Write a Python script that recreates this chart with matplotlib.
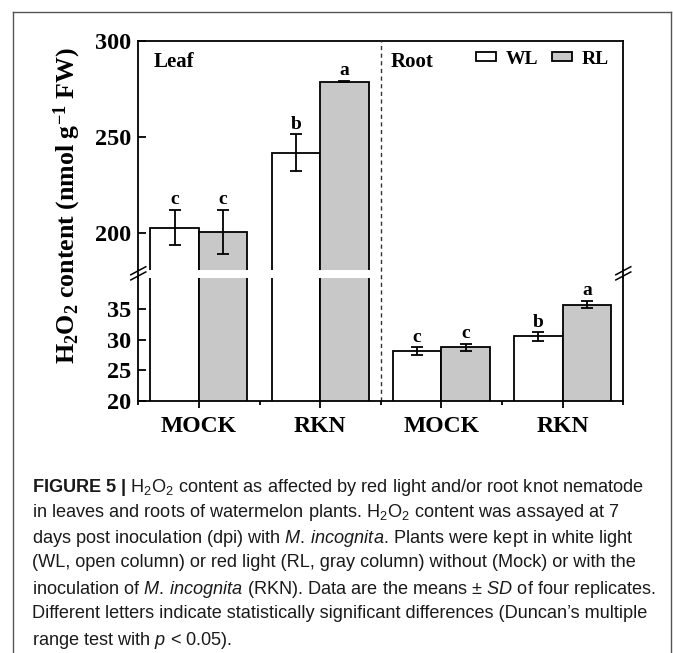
import numpy as np
import matplotlib
matplotlib.use('Agg')
from matplotlib import pyplot as plt
from matplotlib.lines import Line2D

# data
groups = ['MOCK', 'RKN', 'MOCK', 'RKN']
tissues = ['Leaf', 'Root']
wl_mean = [202.8, 241.7, 28.1, 30.5]
wl_sd = [9.3, 9.6, 0.65, 0.7]
rl_mean = [200.5, 278.8, 28.7, 35.7]
rl_sd = [11.7, 0.4, 0.6, 0.6]
wl_letters = ['c', 'b', 'c', 'b']
rl_letters = ['c', 'a', 'c', 'a']
upper_ticks = [200, 250, 300]
lower_ticks = [20, 25, 30, 35]
upper_lim = (180.7, 300)
lower_lim = (20, 40.1)

caption_lines = [
    r"$\mathbf{FIGURE\ 5\ |}$ H$\mathregular{_2}$O$\mathregular{_2}$ content as affected by red light and/or root knot nematode",
    r"in leaves and roots of watermelon plants. H$\mathregular{_2}$O$\mathregular{_2}$ content was assayed at 7",
    r"days post inoculation (dpi) with $\mathit{M.\,incognita}$. Plants were kept in white light",
    "(WL, open column) or red light (RL, gray column) without (Mock) or with the",
    r"inoculation of $\mathit{M.\,incognita}$ (RKN). Data are the means ± $\mathit{SD}$ of four replicates.",
    "Different letters indicate statistically significant differences (Duncan\u2019s multiple",
    r"range test with $\mathit{p}$ < 0.05).",
]

plt.rcParams['font.family'] = ['Liberation Sans', 'DejaVu Sans']
plt.rcParams['mathtext.fontset'] = 'custom'
plt.rcParams['mathtext.rm'] = 'Liberation Sans'
plt.rcParams['mathtext.it'] = 'Liberation Sans:italic'
plt.rcParams['mathtext.bf'] = 'Liberation Sans:bold'

SERIF = 'Liberation Serif'
LW = 1.3
GRAY = '#c8c8c8'

W, H = 673, 653
fig = plt.figure(figsize=(W / 100, H / 100), dpi=100)


def fx(px):
    return px / W


def fy(px):
    return 1 - px / H


# pixel layout of the two halves of the broken axis
left, right = 138.3, 623.3
top_y0, top_y1 = 41, 270
low_y0, low_y1 = 277.7, 400.7
ax_top = fig.add_axes([fx(left), fy(top_y1), fx(right) - fx(left), fy(top_y0) - fy(top_y1)])
ax_low = fig.add_axes([fx(left), fy(low_y1), fx(right) - fx(left), fy(low_y0) - fy(low_y1)])

x = np.arange(1, len(groups) + 1)
w = 0.4
for ax in (ax_top, ax_low):
    b_wl = ax.bar(x - w / 2, wl_mean, w, color='white', edgecolor='black', linewidth=LW, zorder=2)
    b_rl = ax.bar(x + w / 2, rl_mean, w, color=GRAY, edgecolor='black', linewidth=LW, zorder=2)
    ax.errorbar(x - w / 2, wl_mean, yerr=wl_sd, fmt='none', ecolor='black',
                elinewidth=LW, capsize=4, capthick=LW, zorder=3)
    ax.errorbar(x + w / 2, rl_mean, yerr=rl_sd, fmt='none', ecolor='black',
                elinewidth=LW, capsize=4, capthick=LW, zorder=3)
    ax.set_xlim(0.5, 4.5)
    for s in ax.spines.values():
        s.set_linewidth(LW)
    ax.tick_params(axis='y', direction='in', length=6, width=LW, pad=5, labelsize=17.5)
    if ax is ax_top:
        legend_handles = [b_wl, b_rl]

ax_top.set_ylim(*upper_lim)
ax_low.set_ylim(*lower_lim)
ax_top.set_yticks(upper_ticks)
ax_low.set_yticks(lower_ticks)
ax_top.spines['bottom'].set_visible(False)
ax_low.spines['top'].set_visible(False)
ax_top.set_xticks([])

ax_low.set_xticks(x)
ax_low.set_xticklabels(groups, fontfamily=SERIF, fontweight='bold', fontsize=17)
ax_low.set_xticks(np.arange(0.5, 4.6, 1.0), minor=True)
ax_low.tick_params(axis='x', which='major', direction='out', length=5, width=LW, pad=6)
ax_low.tick_params(axis='x', which='minor', direction='out', length=3, width=LW)

for ax in (ax_top, ax_low):
    for lab in ax.get_yticklabels():
        lab.set_fontfamily(SERIF)
        lab.set_fontweight('bold')

# significance letters
for i in range(len(groups)):
    for mean, sd, letter, dx in ((wl_mean[i], wl_sd[i], wl_letters[i], -w / 2),
                                 (rl_mean[i], rl_sd[i], rl_letters[i], w / 2)):
        ax = ax_top if mean > lower_lim[1] else ax_low
        ax.annotate(letter, (x[i] + dx, mean + sd), xytext=(0, 4), textcoords='offset points',
                    ha='center', va='baseline', fontsize=14, fontweight='bold', fontfamily=SERIF)

# tissue labels
ax_top.text(0.031, 0.91, tissues[0], transform=ax_top.transAxes, fontsize=15,
            fontweight='bold', fontfamily=SERIF, va='center', ha='left')
ax_top.text(0.52, 0.91, tissues[1], transform=ax_top.transAxes, fontsize=15,
            fontweight='bold', fontfamily=SERIF, va='center', ha='left')

ax_top.legend(legend_handles, ['WL', 'RL'], ncol=2, loc='upper right', bbox_to_anchor=(0.97, 0.958),
              frameon=False, prop=dict(family=SERIF, weight='bold', size=14),
              handlelength=1.0, handleheight=0.35, handletextpad=0.5, columnspacing=0.74,
              borderpad=0, borderaxespad=0)

# dashed separator between leaf and root
low_h = low_y1 - low_y0
ax_low.axvline(2.5, ymin=0, ymax=(low_y1 - top_y0) / low_h, color='#333333', lw=1.0,
               linestyle=(0, (3, 2.5)), clip_on=False, zorder=1)

# spines across the gap and the // break marks
gap = low_y0 - top_y1
bx, by = 7.5 / (right - left), 4.0 / low_h
yc = 1 + (gap / 2 + 0.5) / low_h
for side in (0, 1):
    ax_low.plot([side, side], [1, 1 + gap / low_h], transform=ax_low.transAxes,
                color='black', lw=LW, clip_on=False)
    for off in (-2.6 / low_h, 2.6 / low_h):
        ax_low.plot([side - bx, side + bx], [yc - by + off, yc + by + off], transform=ax_low.transAxes,
                    color='black', lw=1.1, clip_on=False)

fig.text(fx(67), fy(206), r"H$\mathregular{_2}$O$\mathregular{_2}$ content (nmol g$\mathregular{^{-1}}$ FW)",
         rotation=90, ha='center', va='center', fontsize=18.6, fontweight='bold', fontfamily=SERIF)

# caption
for k, line in enumerate(caption_lines):
    fig.text(fx(32), fy(484 + k * 25.6), line, ha='left', va='center_baseline',
             fontsize=13.1, color='#1a1a1a')

# outer frame
frame = dict(color='#555555', lw=1.0)
fig.add_artist(Line2D([fx(13), fx(671)], [fy(12), fy(12)], **frame))
fig.add_artist(Line2D([fx(13), fx(13)], [fy(12), 0], **frame))
fig.add_artist(Line2D([fx(671), fx(671)], [fy(12), 0], **frame))

fig.savefig('out.png', dpi=100)
